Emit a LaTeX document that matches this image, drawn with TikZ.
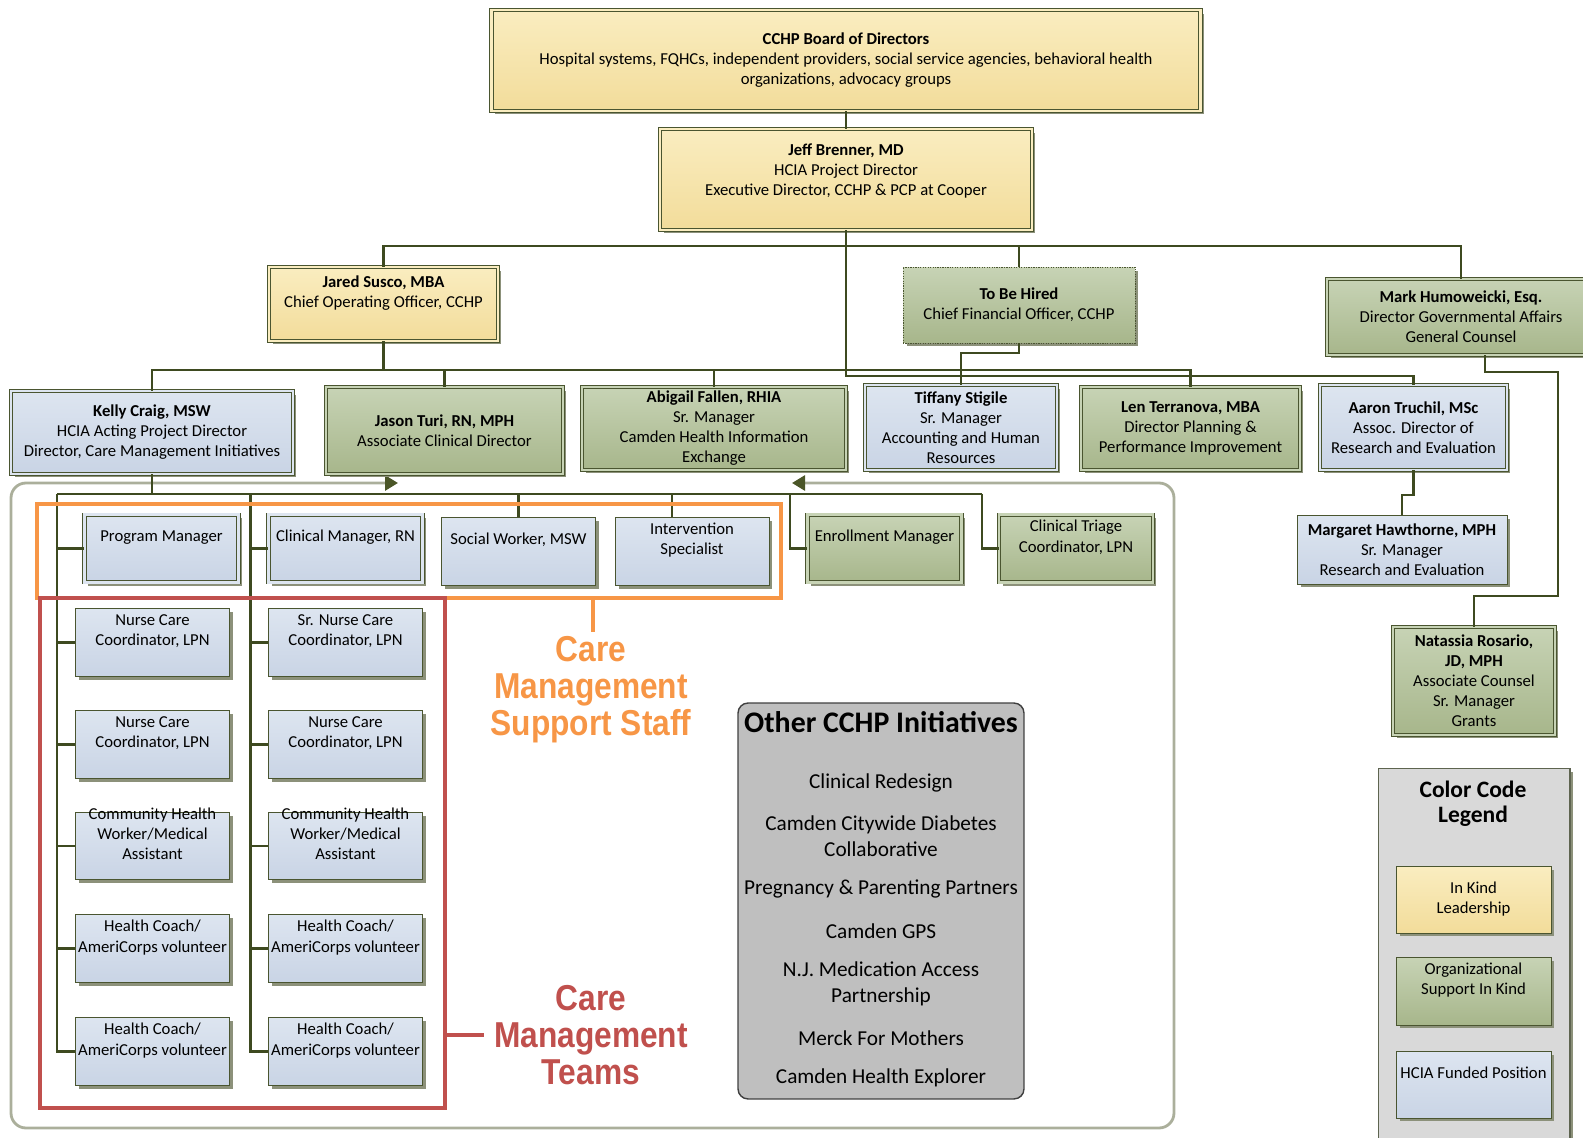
\documentclass[tikz,border=0pt]{standalone}
\usepackage{fontspec}
\setmainfont{Carlito}
\newfontfamily\calloutfont[FakeStretch=0.88]{Liberation Sans}
\usetikzlibrary{arrows.meta,shadows}
\definecolor{ylwtop}{HTML}{FAEDC0}
\definecolor{ylwbot}{HTML}{F2DC9A}
\definecolor{grntop}{HTML}{C7D3B5}
\definecolor{grnbot}{HTML}{A7B68B}
\definecolor{blutop}{HTML}{DDE5F0}
\definecolor{blubot}{HTML}{C9D4E5}
\definecolor{borderol}{HTML}{4A5530}
\definecolor{lineol}{HTML}{3E4A20}
\definecolor{shadowol}{HTML}{8C917A}
\definecolor{arrowol}{HTML}{4B5628}
\definecolor{framecol}{HTML}{ABAF9B}
\definecolor{staffor}{HTML}{F79646}
\definecolor{teamred}{HTML}{C0504D}
\definecolor{initfill}{HTML}{BFBFBF}
\definecolor{initdraw}{HTML}{404040}
\definecolor{legfill}{HTML}{D9D9D9}
\definecolor{legdraw}{HTML}{5E6450}
\tikzset{
  orgbox/.style={draw=borderol, line width=0.5pt, inner sep=1pt, align=center,
    font=\fontsize{9.5}{11.4}\selectfont,
    drop shadow={shadow xshift=0.07cm, shadow yshift=-0.07cm, fill=shadowol, opacity=1}},
  ylwbox/.style={orgbox, top color=ylwtop, bottom color=ylwbot},
  grnbox/.style={orgbox, top color=grntop, bottom color=grnbot},
  blubox/.style={orgbox, top color=blutop, bottom color=blubot},
  dbl/.style={double=#1, double distance=1.5pt},
  wh/.style 2 args={minimum width=#1, minimum height=#2},
  toptext/.style={text depth=14pt},
  chw/.style={text height=23pt, text depth=8pt},
  smallbox/.style={wh={3.08cm}{1.35cm}, toptext},
  teambox/.style={blubox, smallbox},
  conn/.style={draw=lineol, line width=1.2pt},
  staffframe/.style={draw=framecol, line width=1.6pt, rounded corners=0.3cm},
  grpbox/.style={draw=#1, line width=2.2pt},
  calltext/.style={font=\calloutfont\bfseries\fontsize{20.5}{21}\selectfont, align=center, inner sep=0pt},
  initbox/.style={draw=initdraw, fill=initfill, line width=0.8pt, rounded corners=0.2cm},
  inititem/.style={font=\fontsize{12.1}{14.8}\selectfont, align=center, inner sep=1pt},
}

\begin{document}
\begin{tikzpicture}[x=0.02cm, y=-0.02cm]
  \useasboundingbox (0,0) rectangle (1583,1138);

  % frame round the care management staff
  \draw[staffframe, {Triangle[length=0.26cm,width=0.3cm,color=arrowol]}-{Triangle[length=0.26cm,width=0.3cm,color=arrowol]}]
    (398,483) -| (11,1128) -| (1174,483) -- (792,483);

  % board and director
  \node[ylwbox, dbl=ylwtop, wh={14.18cm}{2.02cm}] (board) at (846,60.5) {\textbf{CCHP Board of Directors}\\Hospital systems, FQHCs, independent providers, social service agencies, behavioral health\\organizations, advocacy groups};
  \node[ylwbox, dbl=ylwtop, text depth=11pt, wh={7.44cm}{2.02cm}] (jeff) at (846,179.5) {\textbf{Jeff Brenner, MD}\\HCIA Project Director\\Executive Director, CCHP \& PCP at Cooper};

  % second row
  \node[ylwbox, dbl=ylwtop, toptext, wh={4.58cm}{1.48cm}] (jared) at (383.5,304) {\textbf{Jared Susco, MBA}\\Chief Operating Officer, CCHP};
  \node[grnbox, dash pattern=on 0.7pt off 0.7pt, wh={4.64cm}{1.52cm}] (tbh) at (1019,305) {\textbf{To Be Hired}\\Chief Financial Officer, CCHP};
  \node[grnbox, dbl=grntop, wh={5.36cm}{1.52cm}] (mark) at (1461,317) {\textbf{Mark Humoweicki, Esq.}\\Director Governmental Affairs\\General Counsel};

  % third row
  \node[blubox, dbl=blutop, wh={5.64cm}{1.66cm}] (kelly) at (152,432.5) {\textbf{Kelly Craig, MSW}\\HCIA Acting Project Director\\Director, Care Management Initiatives};
  \node[grnbox, dbl=grntop, wh={4.74cm}{1.74cm}] (jason) at (444.5,430.5) {\textbf{Jason Turi, RN, MPH}\\Associate Clinical Director};
  \node[grnbox, dbl=grntop, wh={5.28cm}{1.66cm}] (abigail) at (714,428.5) {\textbf{Abigail Fallen, RHIA}\\Sr. Manager\\Camden Health Information\\Exchange};
  \node[blubox, dbl=blutop, wh={3.84cm}{1.70cm}] (tiffany) at (961,427.5) {\textbf{Tiffany Stigile}\\Sr. Manager\\Accounting and Human\\Resources};
  \node[grnbox, dbl=grntop, wh={4.38cm}{1.66cm}] (len) at (1190.5,428.5) {\textbf{Len Terranova, MBA}\\Director Planning \&\\Performance Improvement};
  \node[blubox, dbl=blutop, wh={3.74cm}{1.70cm}] (aaron) at (1413.5,427.5) {\textbf{Aaron Truchil, MSc}\\Assoc. Director of\\Research and Evaluation};
  \node[blubox, wh={4.2cm}{1.38cm}] (margaret) at (1402,549.5) {\textbf{Margaret Hawthorne, MPH}\\Sr. Manager\\Research and Evaluation};
  \node[grnbox, dbl=grntop, wh={3.24cm}{2.16cm}] (natassia) at (1474,681) {\textbf{Natassia Rosario,}\\\textbf{JD, MPH}\\Associate Counsel\\Sr. Manager\\Grants};

  % staff row
  \node[blubox, dbl=blutop, smallbox] (progmgr) at (161.5,548.5) {Program Manager};
  \node[blubox, dbl=blutop, smallbox] (clinmgr) at (345.5,548.5) {Clinical Manager, RN};
  \node[blubox, smallbox] (social) at (518.5,551.5) {Social Worker, MSW};
  \node[blubox, smallbox] (interv) at (692,551.5) {Intervention\\Specialist};
  \node[grnbox, dbl=grntop, smallbox] (enroll) at (884.5,548.5) {Enrollment Manager};
  \node[grnbox, dbl=grntop, smallbox] (triage) at (1076,548.5) {Clinical Triage\\Coordinator, LPN};

  % care management teams
  \node[teambox] (nurseA) at (152.5,642.5) {Nurse Care\\Coordinator, LPN};
  \node[teambox] (srnurse) at (345.5,642.5) {Sr. Nurse Care\\Coordinator, LPN};
  \node[teambox] (nurseB) at (152.5,744.5) {Nurse Care\\Coordinator, LPN};
  \node[teambox] (nurseC) at (345.5,744.5) {Nurse Care\\Coordinator, LPN};
  \node[teambox, chw] (chwA) at (152.5,846) {Community Health\\Worker/Medical\\Assistant};
  \node[teambox, chw] (chwB) at (345.5,846) {Community Health\\Worker/Medical\\Assistant};
  \node[teambox] (coachA) at (152.5,948.5) {Health Coach/\\AmeriCorps volunteer};
  \node[teambox] (coachB) at (345.5,948.5) {Health Coach/\\AmeriCorps volunteer};
  \node[teambox] (coachC) at (152.5,1051.5) {Health Coach/\\AmeriCorps volunteer};
  \node[teambox] (coachD) at (345.5,1051.5) {Health Coach/\\AmeriCorps volunteer};

  % connectors
  \coordinate (bus1) at (846,246); \coordinate (bus2) at (383.5,370); \coordinate (bus3) at (846,376);
  \coordinate (bus4) at (152,494); \coordinate (colA) at (57,494); \coordinate (colB) at (250.5,494);
  \coordinate (busend) at (982,494); \coordinate (ivdrop) at (672,494); \coordinate (endrop) at (790,494);
  \coordinate (mkjog) at (1558,372);
  \begin{scope}[conn]
    \draw (board.south) -- (jeff.north);
    \draw (jared.north) -- (jared.north |- bus1) -- (mark.north |- bus1) -- (mark.north);
    \draw (tbh.north) -- (tbh.north |- bus1);
    \draw (jeff.south) -- (bus3) -| (aaron.north);
    \draw (jared.south) -- (bus2);
    \draw (kelly.north) |- (bus2) -| (len.north);
    \draw (jason.north) -- (jason.north |- bus2);
    \draw (abigail.north) -- (abigail.north |- bus2);
    \draw (tbh.south) -- ++(0,10) -| (tiffany.north);
    \draw (aaron.south) -- ++(0,25) -| (margaret.north);
    \draw ([xshift=0.48cm]mark.south) |- (mkjog) |- ([yshift=0.62cm]natassia.north) -- (natassia.north);
    \draw (kelly.south) -- (bus4);
    \draw (colA) -- (busend);
    \foreach \n in {progmgr, nurseA, nurseB, chwA, coachA, coachC}
      \draw (colA) |- (\n.west);
    \foreach \n in {clinmgr, srnurse, nurseC, chwB, coachB, coachD}
      \draw (colB) |- (\n.west);
    \draw (social.north |- bus4) -- (social.north);
    \draw (ivdrop) -- (ivdrop |- interv.north);
    \draw (endrop) |- (enroll.west);
    \draw (busend) |- (triage.west);
  \end{scope}

  % staff and team groups
  \node[grpbox=staffor, wh={14.88cm}{1.88cm}] (staffgrp) at (409,551) {};
  \node[grpbox=teamred, wh={8.1cm}{10.2cm}] (teamgrp) at (242.5,853) {};
  \node[calltext, text=staffor] (stafflbl) at (591,690) {Care\\Management\\Support Staff};
  \node[calltext, text=teamred] (teamlbl) at (591,1035) {Care\\Management\\Teams};
  \draw[grpbox=staffor] (staffgrp.south -| 593,0) -- ++(0,32);
  \draw[grpbox=teamred] (teamgrp.east |- teamlbl) -- ++(37,0);

  % other initiatives
  \node[initbox, wh={5.72cm}{7.92cm}] (initiatives) at (881,901) {};
  \node[font=\bfseries\fontsize{17}{20}\selectfont] (inittitle) at (881,722) {Other CCHP Initiatives};
  \foreach \y/\t in {783/Clinical Redesign, 836/{Camden Citywide Diabetes\\Collaborative},
    889/Pregnancy \& Parenting Partners, 931/Camden GPS, 984/{N.J. Medication Access\\Partnership},
    1038/Merck For Mothers, 1078/Camden Health Explorer}
    \node[inititem] (init\y) at (881,\y) {\t};

  % legend
  \node[draw=legdraw, fill=legfill, line width=0.6pt, wh={3.84cm}{7.64cm},
    drop shadow={shadow xshift=0.07cm, shadow yshift=-0.07cm, fill=shadowol, opacity=1}] (legend) at (1474,959) {};
  \node[font=\bfseries\fontsize{13.4}{14.3}\selectfont, align=center] (legendtitle) at (1473,804) {Color Code\\Legend};
  \node[ylwbox, wh={3.1cm}{1.34cm}] (keyyellow) at (1473.5,899.5) {In Kind\\Leadership};
  \node[grnbox, toptext, wh={3.1cm}{1.36cm}] (keygreen) at (1473.5,991) {Organizational\\Support In Kind};
  \node[blubox, toptext, wh={3.1cm}{1.34cm}] (keyblue) at (1473.5,1084.5) {HCIA Funded Position};
\end{tikzpicture}
\end{document}
